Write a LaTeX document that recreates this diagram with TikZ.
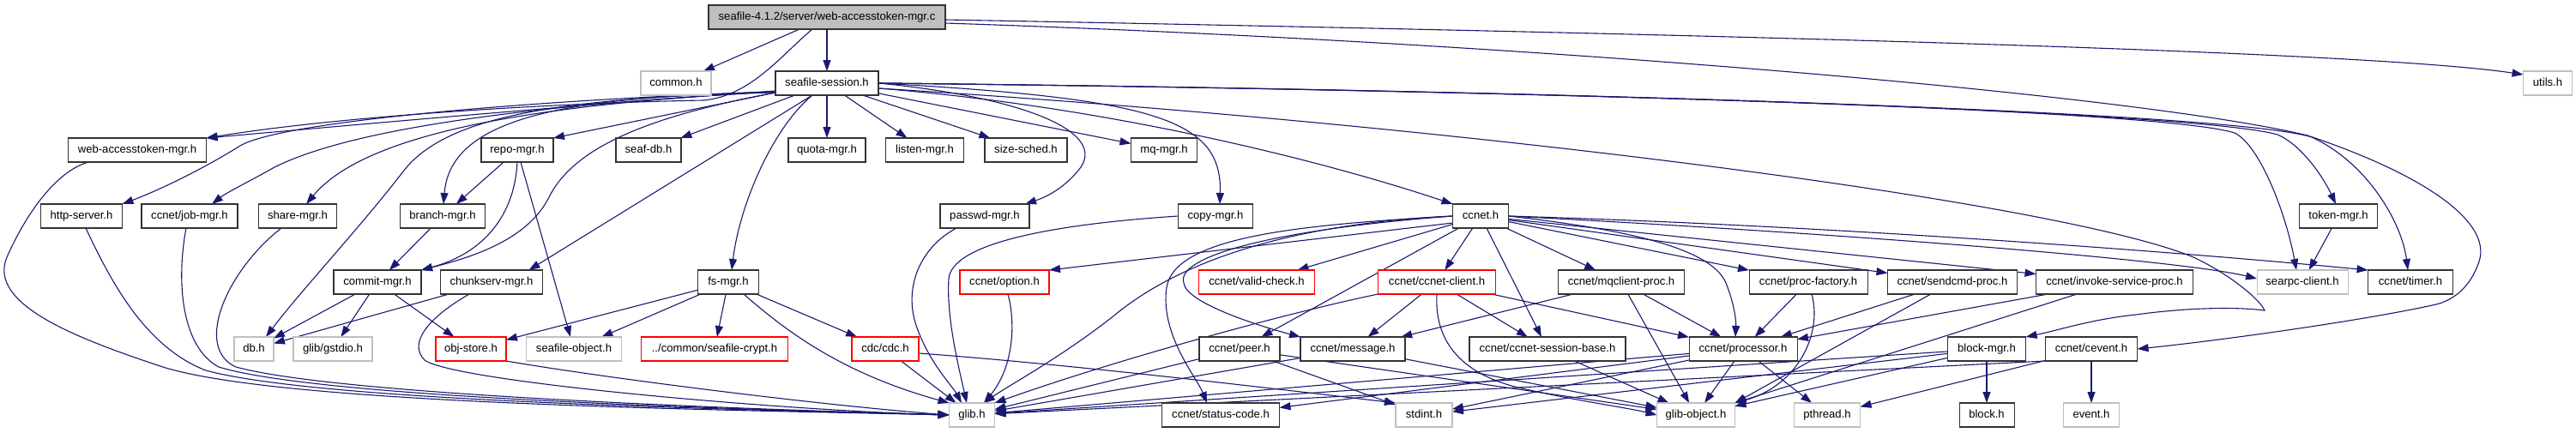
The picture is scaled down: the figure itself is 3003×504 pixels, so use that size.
\documentclass[tikz,border=0pt]{standalone}
\usepackage{fontspec}
\setmainfont{Liberation Sans}
\usetikzlibrary{arrows.meta}
\definecolor{edgec}{HTML}{191970}
\definecolor{grayb}{HTML}{BFBFBF}
\definecolor{rootf}{HTML}{BFBFBF}
\pgfdeclarelayer{background}
\pgfsetlayers{background,main}
\tikzset{
  nd/.style={rectangle, draw=black!80, line width=1.05pt, fill=white, minimum height=28pt,
    inner xsep=3pt, inner ysep=0pt, text height=9.6pt, text depth=2.8pt,
    font=\fontsize{13.1}{15}\selectfont, outer sep=0pt},
  bn/.style={nd},
  gn/.style={nd, draw=grayb},
  rn/.style={nd, draw=red},
  ed/.style={draw=edgec, line width=1.1pt, -{Triangle[length=13pt,width=9pt]}},
}
\begin{document}
\begin{tikzpicture}[x=1pt,y=-1pt]
\useasboundingbox (0,0) rectangle (3003,504);
% row 0 and 1
\node[nd, fill=rootf, minimum width=276pt] (root) at (964,20) {seafile-4.1.2/server/web-accesstoken-mgr.c};
\node[gn, minimum width=82pt] (common) at (788,97) {common.h};
\node[bn, minimum width=120pt] (sess) at (964,97) {seafile-session.h};
\node[gn, minimum width=57pt] (utils) at (2970,97) {utils.h};
% row 2
\node[bn, minimum width=161pt] (wam) at (160,175) {web-accesstoken-mgr.h};
\node[bn, minimum width=84pt] (repo) at (603,175) {repo-mgr.h};
\node[bn, minimum width=76pt] (seafdb) at (756,175) {seaf-db.h};
\node[bn, minimum width=90pt] (quota) at (964,175) {quota-mgr.h};
\node[bn, minimum width=91pt] (listen) at (1078,175) {listen-mgr.h};
\node[bn, minimum width=96pt] (sizes) at (1196,175) {size-sched.h};
\node[bn, minimum width=77pt] (mq) at (1357,175) {mq-mgr.h};
% row 3
\node[bn, minimum width=95pt] (http) at (95,252) {http-server.h};
\node[bn, minimum width=112pt] (job) at (221,252) {ccnet/job-mgr.h};
\node[bn, minimum width=91pt] (share) at (347,252) {share-mgr.h};
\node[bn, minimum width=99pt] (branch) at (516,252) {branch-mgr.h};
\node[bn, minimum width=104pt] (passwd) at (1148,252) {passwd-mgr.h};
\node[bn, minimum width=87pt] (copy) at (1417,252) {copy-mgr.h};
\node[bn, minimum width=65pt] (ccnet) at (1726,252) {ccnet.h};
\node[bn, minimum width=91pt] (token) at (2726,252) {token-mgr.h};
% row 4
\node[bn, minimum width=102pt] (commit) at (440,329) {commit-mgr.h};
\node[bn, minimum width=119pt] (chunk) at (573,329) {chunkserv-mgr.h};
\node[bn, minimum width=71pt] (fs) at (849,329) {fs-mgr.h};
\node[rn, minimum width=104pt] (option) at (1171,329) {ccnet/option.h};
\node[rn, minimum width=135pt] (valid) at (1465,329) {ccnet/valid-check.h};
\node[rn, minimum width=137pt] (client) at (1675,329) {ccnet/ccnet-client.h};
\node[bn, minimum width=147pt] (mqc) at (1890,329) {ccnet/mqclient-proc.h};
\node[bn, minimum width=138pt] (pf) at (2108,329) {ccnet/proc-factory.h};
\node[bn, minimum width=151pt] (sendcmd) at (2276,329) {ccnet/sendcmd-proc.h};
\node[bn, minimum width=183pt] (invoke) at (2465,329) {ccnet/invoke-service-proc.h};
\node[gn, minimum width=106pt] (searpc) at (2684,329) {searpc-client.h};
\node[bn, minimum width=99pt] (timer) at (2810,329) {ccnet/timer.h};
% row 5
\node[gn, minimum width=46pt] (db) at (296,407) {db.h};
\node[gn, minimum width=92pt] (gstdio) at (388,407) {glib/gstdio.h};
\node[rn, minimum width=82pt] (objstore) at (549,407) {obj-store.h};
\node[gn, minimum width=111pt] (sobj) at (669,407) {seafile-object.h};
\node[rn, minimum width=171pt] (crypt) at (833,407) {../common/seafile-crypt.h};
\node[rn, minimum width=78pt] (cdc) at (1032,407) {cdc/cdc.h};
\node[bn, minimum width=94pt] (peer) at (1445,407) {ccnet/peer.h};
\node[bn, minimum width=122pt] (msg) at (1577,407) {ccnet/message.h};
\node[bn, minimum width=182pt] (csb) at (1804,407) {ccnet/ccnet-session-base.h};
\node[bn, minimum width=126pt] (proc) at (2032,407) {ccnet/processor.h};
\node[bn, minimum width=91pt] (bmgr) at (2316,407) {block-mgr.h};
\node[bn, minimum width=107pt] (cevent) at (2438,407) {ccnet/cevent.h};
% row 6
\node[gn, minimum width=53pt] (glib) at (1133,484) {glib.h};
\node[bn, minimum width=137pt] (status) at (1423,484) {ccnet/status-code.h};
\node[gn, minimum width=66pt] (stdint) at (1660,484) {stdint.h};
\node[gn, minimum width=91pt] (gobj) at (1977,484) {glib-object.h};
\node[gn, minimum width=77pt] (pthread) at (2130,484) {pthread.h};
\node[bn, minimum width=64pt] (block) at (2316,484) {block.h};
\node[gn, minimum width=65pt] (event) at (2438,484) {event.h};

\begin{pgfonlayer}{background}
% root
\draw[ed] (root) -- (common);
\draw[ed] (root) -- (sess);
\draw[ed] ([xshift=-17pt]root.south) .. controls (910,65) and (875,112) .. (820,117) .. controls (650,120) and (400,135) .. (wam.north east);
\draw[ed] ([yshift=-3pt]root.east) .. controls (1900,38) and (2750,58) .. ([yshift=-4pt]utils.north west);
\draw[ed] ([yshift=-7pt]root.east) .. controls (1800,50) and (2500,112) .. (2690,158) .. controls (2830,205) and (2905,260) .. (2890,305) .. controls (2880,335) and (2860,350) .. (2840,355) .. controls (2750,375) and (2580,398) .. (cevent.east);
% seafile-session, left
\draw[ed] ([yshift=-9pt]sess.west) .. controls (700,120) and (420,145) .. (wam.north east);
\draw[ed] ([yshift=-10pt]sess.west) .. controls (650,115) and (330,140) .. (280,170) .. controls (240,195) and (190,220) .. (http.north east);
\draw[ed] ([yshift=-10pt]sess.west) .. controls (700,118) and (430,140) .. (320,195) .. controls (290,212) and (265,224) .. ([xshift=-30pt]job.north east);
\draw[ed] ([yshift=-10pt]sess.west) .. controls (650,120) and (430,150) .. ([xshift=10pt]share.north);
\draw[ed] ([yshift=-11pt]sess.west) .. controls (650,112) and (525,140) .. ([xshift=1pt]branch.north);
\draw[ed] ([yshift=-11pt]sess.west) -- (repo.north east);
\draw[ed] ([yshift=-11pt]sess.west) .. controls (760,135) and (670,170) .. (640,230) .. controls (615,280) and (550,300) .. (commit.north east);
\draw[ed] ([yshift=-10pt]sess.west) .. controls (650,115) and (520,135) .. (470,200) .. controls (420,265) and (350,340) .. ([xshift=14pt]db.north);
% seafile-session, down and right
\draw[ed] (sess) -- (seafdb);
\draw[ed] (sess) -- (quota);
\draw[ed] (sess) -- (listen);
\draw[ed] (sess) -- (sizes);
\draw[ed] (sess) -- (mq);
\draw[ed] ([xshift=-17pt]sess.south) .. controls (900,150) and (862,240) .. ([xshift=4pt]fs.north);
\draw[ed] ([xshift=-17pt]sess.south) -- ([xshift=-16pt]chunk.north east);
\draw[ed] (sess.east) .. controls (1180,112) and (1290,150) .. (1260,195) .. controls (1245,215) and (1225,228) .. ([xshift=-5pt]passwd.north east);
\draw[ed] (sess.east) .. controls (1350,115) and (1425,140) .. ([xshift=5pt]copy.north);
\draw[ed] ([yshift=-6pt]sess.east) .. controls (1300,125) and (1550,190) .. (ccnet.north west);
\draw[ed] ([yshift=-6pt]sess.east) .. controls (1700,145) and (2400,235) .. (2557,300) .. controls (2600,320) and (2635,350) .. (2640,362) .. controls (2600,357) and (2540,360) .. (2490,367) .. controls (2440,372) and (2400,385) .. (bmgr.north east);
\draw[ed] (sess.east) .. controls (1800,105) and (2520,128) .. (2605,155) .. controls (2635,170) and (2665,250) .. ([xshift=-7pt]searpc.north);
\draw[ed] (sess.east) .. controls (1800,105) and (2560,130) .. (2655,157) .. controls (2685,170) and (2710,210) .. ([xshift=-3pt]token.north);
\draw[ed] (sess.east) .. controls (1800,105) and (2600,130) .. (2695,160) .. controls (2760,190) and (2800,260) .. ([xshift=-3pt]timer.north);
% left part
\draw[ed] ([xshift=-57pt]wam.south) .. controls (65,200) and (30,250) .. (8,300) .. controls (-15,355) and (90,395) .. (190,428) .. controls (330,472) and (850,478) .. (glib.west);
\draw[ed] ([xshift=5pt]http.south) .. controls (130,330) and (170,405) .. (240,432) .. controls (380,470) and (900,478) .. (glib.west);
\draw[ed] ([xshift=-4pt]job.south) .. controls (205,330) and (212,405) .. (255,428) .. controls (380,466) and (900,478) .. (glib.west);
\draw[ed] ([xshift=-19pt]share.south) .. controls (265,315) and (225,405) .. (275,428) .. controls (400,462) and (900,478) .. (glib.west);
\draw[ed] (repo) -- (branch);
\draw[ed] (repo.south) .. controls (600,250) and (565,295) .. (commit.north east);
\draw[ed] (repo) -- (sobj);
\draw[ed] (branch) -- (commit);
\draw[ed] (commit) -- (db);
\draw[ed] (commit) -- (gstdio);
\draw[ed] (commit) -- (objstore);
\draw[ed] (chunk) -- (db);
\draw[ed] ([xshift=-26pt]chunk.south) .. controls (500,370) and (475,400) .. (495,420) .. controls (530,445) and (900,478) .. (glib.west);
\draw[ed] (fs) -- (objstore);
\draw[ed] (fs) -- (sobj);
\draw[ed] (fs) -- (crypt);
\draw[ed] (fs) -- (cdc);
\draw[ed] ([xshift=18pt]fs.south) .. controls (915,385) and (980,435) .. (glib.north west);
\draw[ed] (objstore.south east) .. controls (700,440) and (950,472) .. (glib.west);
\draw[ed] (cdc) -- (glib);
\draw[ed] ([yshift=-5pt]cdc.east) .. controls (1250,425) and (1500,455) .. (stdint.north west);
\draw[ed] ([xshift=-33pt]passwd.south) .. controls (1070,290) and (1052,340) .. (1070,385) .. controls (1085,425) and (1110,450) .. ([xshift=-12pt]glib.north);
\draw[ed] (copy.west) .. controls (1220,262) and (1110,285) .. (1106,325) .. controls (1103,370) and (1118,430) .. ([xshift=-6pt]glib.north);
\draw[ed] ([xshift=4pt]option.south) .. controls (1185,380) and (1180,430) .. ([xshift=14pt]glib.north);
% ccnet.h
\draw[ed] ([yshift=-8pt]ccnet.west) -- (option.north east);
\draw[ed] (ccnet) -- (valid);
\draw[ed] (ccnet.west) .. controls (1560,258) and (1400,285) .. (1300,367) .. controls (1240,415) and (1175,450) .. ([xshift=14pt]glib.north);
\draw[ed] (ccnet.west) .. controls (1520,262) and (1370,275) .. (1360,335) .. controls (1352,390) and (1395,440) .. ([xshift=-16pt]status.north);
\draw[ed] (ccnet.west) .. controls (1480,268) and (1370,300) .. (1380,330) .. controls (1382,352) and (1460,378) .. (msg.north west);
\draw[ed] (ccnet) -- (peer);
\draw[ed] (ccnet) -- (client);
\draw[ed] (ccnet) -- (csb);
\draw[ed] (ccnet) -- (mqc);
\draw[ed] (ccnet) -- (pf);
\draw[ed] (ccnet) -- (sendcmd);
\draw[ed] (ccnet) -- (invoke);
\draw[ed] (ccnet.east) .. controls (2200,275) and (2550,305) .. ([yshift=4pt]searpc.west);
\draw[ed] (ccnet.east) .. controls (2100,262) and (2500,290) .. (timer.north west);
\draw[ed] (ccnet.east) .. controls (1900,268) and (1995,290) .. (2012,330) .. controls (2022,355) and (2024,375) .. ([xshift=-9pt]proc.north);
% ccnet-client and procs
\draw[ed] (client.south west) .. controls (1500,365) and (1300,420) .. (glib.north east);
\draw[ed] (client) -- (msg);
\draw[ed] (client) -- (csb);
\draw[ed] (client) -- (proc);
\draw[ed] (client.south) .. controls (1672,395) and (1700,435) .. (1770,452) .. controls (1840,468) and (1895,475) .. (gobj.west);
\draw[ed] (mqc) -- (msg);
\draw[ed] (mqc) -- (gobj);
\draw[ed] (mqc) -- (proc);
\draw[ed] (pf) -- (proc);
\draw[ed] ([xshift=4pt]pf.south) .. controls (2125,390) and (2095,450) .. (gobj.north east);
\draw[ed] (sendcmd) -- (proc);
\draw[ed] (sendcmd) -- (gobj.north east);
\draw[ed] (invoke) -- (proc);
\draw[ed] (invoke) -- (gobj.north east);
\draw[ed] (token) -- (searpc);
% bottom rows
\draw[ed] (peer) -- (glib);
\draw[ed] (peer) -- (stdint);
\draw[ed] (peer) -- (gobj);
\draw[ed] (msg) -- (glib);
\draw[ed] (msg) -- (gobj);
\draw[ed] (csb) -- (gobj);
\draw[ed] (proc) -- (glib);
\draw[ed] (proc) -- (stdint);
\draw[ed] (proc) -- (status);
\draw[ed] (proc) -- (gobj);
\draw[ed] (proc) -- (pthread);
\draw[ed] (bmgr) -- (glib);
\draw[ed] (bmgr) -- (stdint);
\draw[ed] (bmgr) -- (gobj);
\draw[ed] (bmgr) -- (block);
\draw[ed] (cevent.south west) -- (glib);
\draw[ed] (cevent) -- (pthread);
\draw[ed] (cevent) -- (event);
\end{pgfonlayer}
\end{tikzpicture}
\end{document}
